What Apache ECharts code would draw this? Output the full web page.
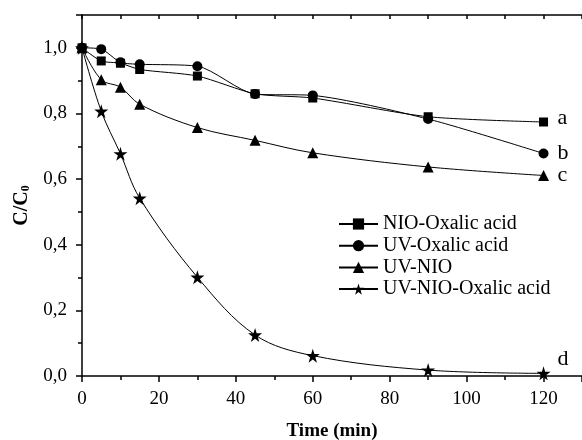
<!DOCTYPE html>
<html>
<head>
<meta charset="utf-8">
<script src="https://cdn.jsdelivr.net/npm/echarts@6/dist/echarts.min.js"></script>
<style>
  html, body { margin: 0; padding: 0; background: #fff; }
  #chart { width: 582px; height: 440px; }
</style>
</head>
<body>
<div id="chart"></div>
<script>
const times = [0, 5, 10, 15, 30, 45, 60, 90, 120];
const nioOxalic = [1.0, 0.960, 0.953, 0.934, 0.914, 0.860, 0.847, 0.790, 0.774];
const uvOxalic = [1.0, 0.996, 0.956, 0.950, 0.944, 0.859, 0.855, 0.783, 0.678];
const uvNio = [1.0, 0.903, 0.880, 0.828, 0.757, 0.718, 0.680, 0.637, 0.611];
const uvNioOxalic = [1.0, 0.807, 0.677, 0.542, 0.301, 0.125, 0.062, 0.018, 0.008];
const seriesNames = ['NIO-Oxalic acid', 'UV-Oxalic acid', 'UV-NIO', 'UV-NIO-Oxalic acid'];
const endTags = ['a', 'b', 'c', 'd'];

const FONT = '"Liberation Serif", "DejaVu Serif", serif';
const STAR = 'path://M50,0 L61,35 L98,35 L68,57 L79,91 L50,70 L21,91 L32,57 L2,35 L39,35 Z';

const chart = echarts.init(document.getElementById('chart'), null, { renderer: 'canvas' });

function mk(i, values, symbol, size, smooth, tagOffset) {
  return {
    name: seriesNames[i], type: 'line', smooth: smooth,
    data: times.map((t, k) => [t, values[k]]),
    symbol: symbol, symbolSize: size,
    lineStyle: { color: '#000', width: 1 },
    itemStyle: { color: '#000' },
    endLabel: { show: true, formatter: endTags[i], color: '#000', fontFamily: FONT, fontSize: 22, offset: tagOffset },
    z: 3
  };
}

const axisBase = {
  axisLine: { lineStyle: { color: '#000', width: 1.5 } },
  axisTick: { lineStyle: { color: '#000', width: 1.5 }, length: 6 },
  minorTick: { show: true, splitNumber: 2, length: 4, lineStyle: { color: '#000', width: 1.5 } },
  splitLine: { show: false }
};

chart.setOption({
  backgroundColor: '#fff',
  animation: false,
  grid: { left: 82, right: 0, top: 15, bottom: 64, outerBoundsMode: 'none' },
  xAxis: [
    Object.assign({}, axisBase, {
      type: 'value', min: 0, max: 130, interval: 20,
      axisLabel: { color: '#000', fontFamily: FONT, fontSize: 19, margin: 14, showMaxLabel: false },
      name: 'Time (min)', nameLocation: 'middle', nameGap: 46,
      nameTextStyle: { color: '#000', fontFamily: FONT, fontSize: 19, fontWeight: 'bold' }
    }),
    {
      type: 'value', position: 'top', min: 0, max: 130, interval: 10,
      axisLine: { lineStyle: { color: '#000', width: 1.5 } },
      axisTick: { inside: true, length: 4, lineStyle: { color: '#000', width: 1.5 } },
      axisLabel: { show: false }, splitLine: { show: false }
    }
  ],
  yAxis: Object.assign({}, axisBase, {
    type: 'value', min: 0, max: 1.1, interval: 0.2,
    axisLabel: {
      color: '#000', fontFamily: FONT, fontSize: 19, margin: 15, showMaxLabel: false,
      formatter: v => v.toFixed(1).replace('.', ',')
    },
    name: '{a|C/C}{b|0}', nameLocation: 'middle', nameGap: 50, nameRotate: 90,
    nameTextStyle: {
      color: '#000', fontFamily: FONT, fontWeight: 'bold', padding: [0, 20, 0, 0],
      rich: {
        a: { fontFamily: FONT, fontSize: 20, fontWeight: 'bold', color: '#000' },
        b: { fontFamily: FONT, fontSize: 12, fontWeight: 'bold', color: '#000', padding: [9, 0, 0, 0] }
      }
    }
  }),
  legend: {
    orient: 'vertical', left: 338, top: 214, padding: 0,
    itemWidth: 39, itemHeight: 14, itemGap: 1.7,
    textStyle: { color: '#000', fontFamily: FONT, fontSize: 20 },
    data: seriesNames
  },
  series: [
    mk(0, nioOxalic, 'rect', 9, 0.25, [6, -4]),
    mk(1, uvOxalic, 'circle', 10, 0.25, [6, 0]),
    mk(2, uvNio, 'triangle', 11, 0.35, [6, 0]),
    mk(3, uvNioOxalic, STAR, 14, 0.35, [6, -14])
  ]
});
</script>
</body>
</html>
